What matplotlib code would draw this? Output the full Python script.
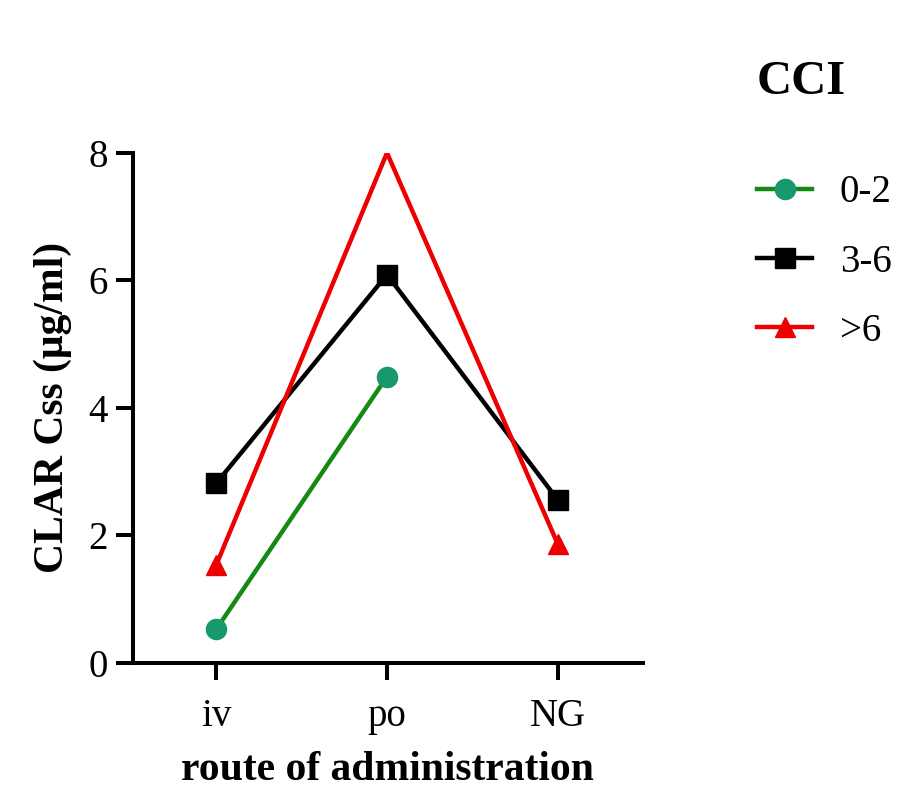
import numpy as np
import matplotlib
matplotlib.use("Agg")
import matplotlib.pyplot as plt

# CLAR steady-state concentration by route, grouped by CCI score
routes = ["iv", "po", "NG"]
cci_groups = ["0-2", "3-6", ">6"]
css_low = [0.53, 4.49, np.nan]
css_mid = [2.82, 6.09, 2.56]
css_high = [1.54, 8.0, 1.87]

plt.rcParams["font.family"] = ["Liberation Serif", "DejaVu Serif"]

fig = plt.figure(figsize=(9.03, 7.92), dpi=100)
ax = fig.add_axes([0.147, 0.163, 0.565, 0.644])

x = np.arange(len(routes))
lw = 3.2

ax.plot(x, css_low, color="#138a13", lw=lw, marker="o", markersize=14.5,
        markerfacecolor="#16996b", markeredgecolor="#16996b", label=cci_groups[0])
ax.plot(x, css_mid, color="black", lw=lw, marker="s", markersize=14.5,
        label=cci_groups[1])
# the po point sits on the top of the axis, so its marker is left off
ax.plot(x, css_high, color="#ee0000", lw=lw, marker="^", markersize=14.5,
        markevery=[0, 2], label=cci_groups[2])

ax.set_xlim(-0.49, 2.5)
ax.set_ylim(0, 8)
ax.set_xticks(x)
ax.set_xticklabels(routes)
ax.set_yticks([0, 2, 4, 6, 8])

for side in ["top", "right"]:
    ax.spines[side].set_visible(False)
for side in ["left", "bottom"]:
    ax.spines[side].set_linewidth(2.9)
    ax.spines[side].set_capstyle("projecting")

ax.tick_params(axis="both", width=2.9, length=12, labelsize=28, pad=6)
ax.tick_params(axis="x", pad=13)

ax.set_ylabel("CLAR Css (μg/ml)", fontsize=30, fontweight="bold", labelpad=12)
ax.set_xlabel("route of administration", fontsize=30, fontweight="bold", labelpad=12)

fig.text(0.838, 0.897, "CCI", fontsize=35, fontweight="bold", ha="left", va="center")
leg = fig.legend(loc="upper left", bbox_to_anchor=(0.8, 0.824), frameon=False,
                 fontsize=28, handlelength=1.4, handletextpad=0.72, labelspacing=0.83)

fig.savefig("out.png", dpi=100)
